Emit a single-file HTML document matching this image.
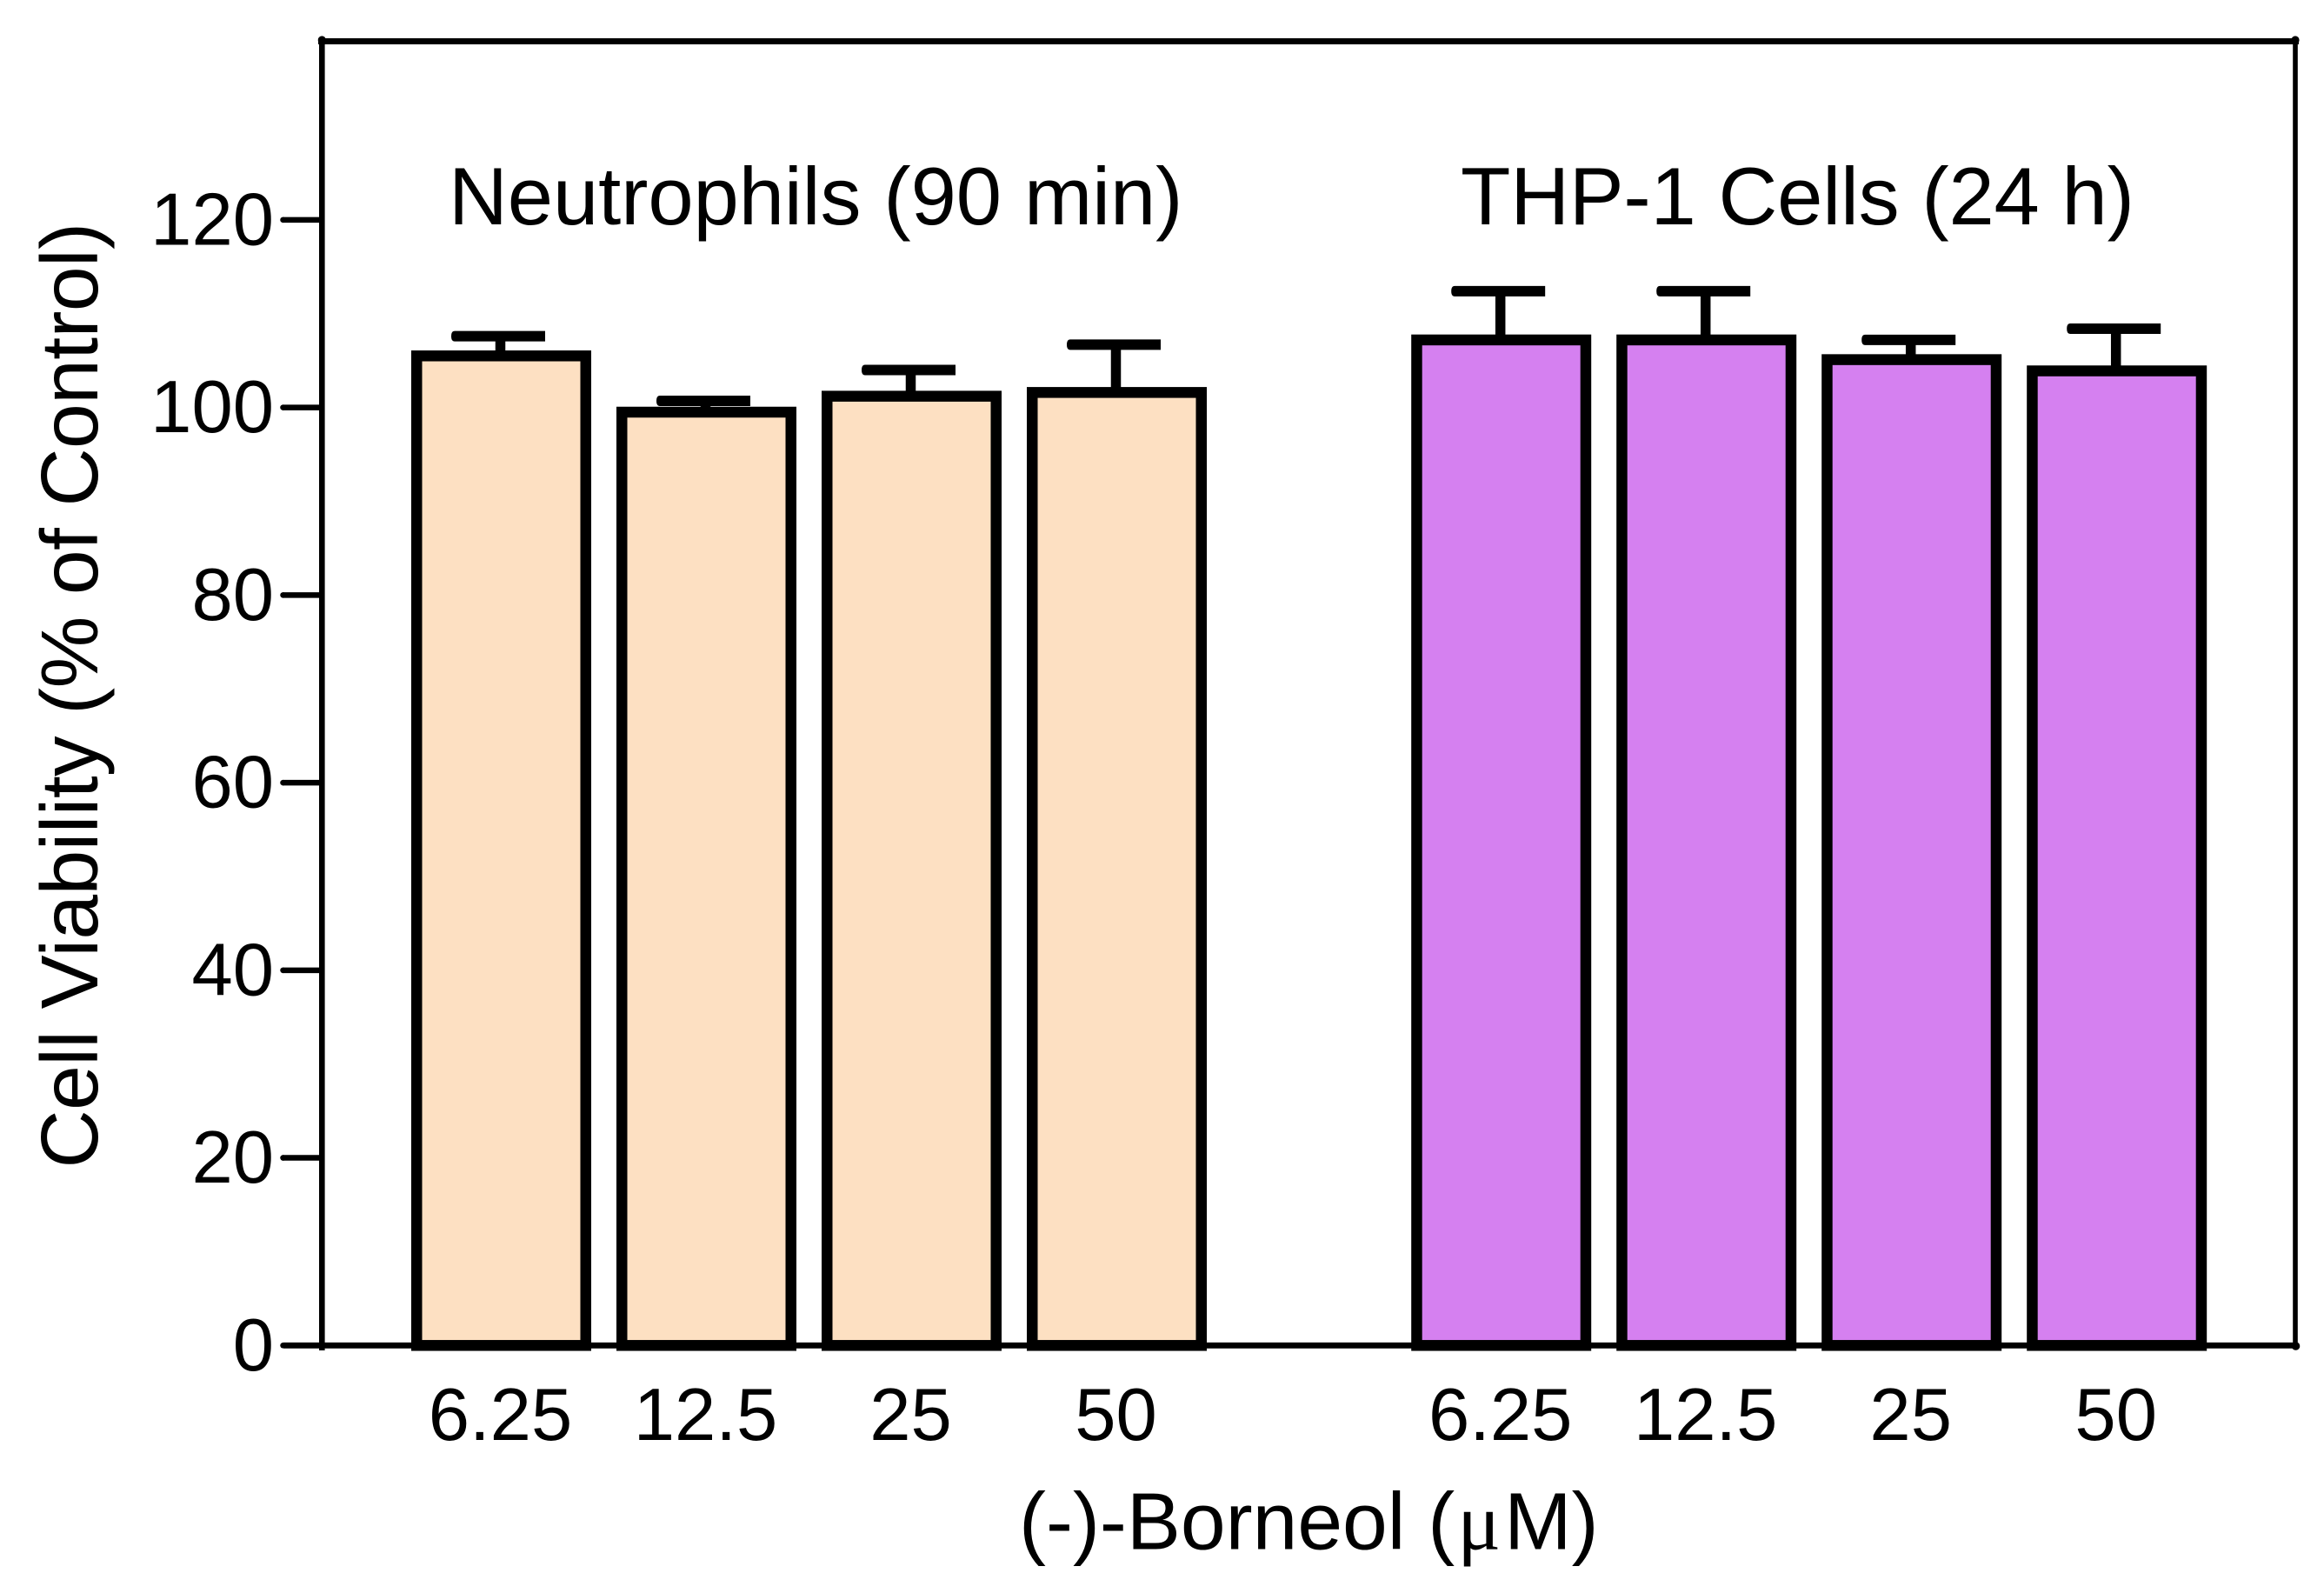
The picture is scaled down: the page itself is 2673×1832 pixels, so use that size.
<!DOCTYPE html>
<html lang="en">
<head>
<meta charset="utf-8">
<title>Cell Viability Bar Chart</title>
<style>
  html, body { margin: 0; padding: 0; background: #fff; }
  svg { display: block; }
  text { font-family: "Liberation Sans", Arial, sans-serif; fill: #000; }
</style>
</head>
<body>
<svg id="chart" xmlns="http://www.w3.org/2000/svg" width="2673" height="1832" viewBox="0 0 2673 1832">
  <rect x="0" y="0" width="2673" height="1832" fill="#ffffff"/>
  <g id="bars"></g>
  <g id="errors"></g>
  <g id="frame">
    <line x1="366" y1="47.5" x2="2644" y2="47.5" stroke="#000" stroke-width="7"/>
    <line x1="370.3" y1="44" x2="370.3" y2="1553" stroke="#000" stroke-width="6.6"/>
    <line x1="2640" y1="44" x2="2640" y2="1551" stroke="#000" stroke-width="5.6"/>
    <line x1="326" y1="1547.3" x2="2642" y2="1547.3" stroke="#000" stroke-width="6.8"/>
    <circle cx="370.3" cy="46" r="4.6" fill="#000"/>
    <circle cx="2640" cy="46" r="4.6" fill="#000"/>
    <circle cx="2640.5" cy="1548" r="4.8" fill="#000"/>
  </g>
  <g id="y-ticks"></g>
  <g id="x-labels"></g>
  <text x="516" y="258" font-size="94" letter-spacing="-0.1">Neutrophils (90 min)</text>
  <text x="1680" y="258" font-size="94" letter-spacing="-0.2">THP-1 Cells (24 h)</text>
  <text transform="translate(112,800) rotate(-90)" text-anchor="middle" font-size="93" letter-spacing="-0.6">Cell Viability (% of Control)</text>
  <text x="1172" y="1781.5" font-size="93">(-)-Borneol (<tspan dx="3" font-family="'Liberation Serif', serif">μ</tspan><tspan dx="4">M)</tspan></text>
</svg>
<script>
const yTickValues = [0, 20, 40, 60, 80, 100, 120];
const doseLabels = ["6.25", "12.5", "25", "50"];
const neutrophilValues = [105.5, 99.5, 101.2, 101.6];
const neutrophilErrors = [2.1, 1.2, 2.8, 5.1];
const thp1Values = [107.2, 107.2, 105.1, 103.9];
const thp1Errors = [5.2, 5.2, 2.1, 4.5];

const NS = "http://www.w3.org/2000/svg";
const PX_PER_UNIT = 10.787;
const Y_ZERO = 1547.3;
const BAR_STEP = 236;
const BAR_WIDTH = 194.5;
const NEUTROPHIL_START = 576.5;
const THP1_START = 1726.7;

function yScale(v) { return Y_ZERO - v * PX_PER_UNIT; }
function xScale(start, i) { return start + i * BAR_STEP; }

function make(tag, attrs, parentId) {
  const el = document.createElementNS(NS, tag);
  for (const k in attrs) el.setAttribute(k, attrs[k]);
  document.getElementById(parentId).appendChild(el);
  return el;
}

function drawSeries(prefix, start, values, errors, fill) {
  values.forEach(function (v, i) {
    const c = xScale(start, i);
    const top = yScale(v);
    const bar = make("rect", {
      x: c - BAR_WIDTH / 2, y: top, width: BAR_WIDTH, height: Y_ZERO - top,
      fill: fill, stroke: "#000", "stroke-width": 12.5
    }, "bars");
    
    

    const capY = yScale(v + errors[i]);
    const stem = make("line", {
      x1: c - 1, x2: c - 1, y1: top, y2: capY, stroke: "#000", "stroke-width": 11.5
    }, "errors");
    
    

    const l = c - 57.5, r = c + 50.5;
    const cap = make("path", {
      d: "M" + r + " " + (capY - 6) + "H" + (l + 4) + "Q" + l + " " + (capY - 6) + " " + l + " " + capY +
         "Q" + l + " " + (capY + 6) + " " + (l + 4) + " " + (capY + 6) + "H" + r + "Z",
      fill: "#000"
    }, "errors");
    
    

    const label = make("text", {
      x: c - 1, y: 1656, "text-anchor": "middle", "font-size": 85
    }, "x-labels");
    label.textContent = doseLabels[i];
    
    
  });
}

drawSeries("neutrophils", NEUTROPHIL_START, neutrophilValues, neutrophilErrors, "#fde0c2");
drawSeries("thp1", THP1_START, thp1Values, thp1Errors, "#d580f0");

yTickValues.forEach(function (t) {
  const y = yScale(t);
  const tick = make("line", {
    x1: 325, x2: 370, y1: y, y2: y, stroke: "#000", "stroke-width": 6.5
  }, "y-ticks");
  
  

  const cap = make("circle", { cx: 325.5, cy: y, r: 3.25, fill: "#000" }, "y-ticks");
  
  

  const label = make("text", {
    x: 315, y: y + 28.5, "text-anchor": "end", "font-size": 85
  }, "y-ticks");
  label.textContent = t;
  
  
});
</script>
</body>
</html>
